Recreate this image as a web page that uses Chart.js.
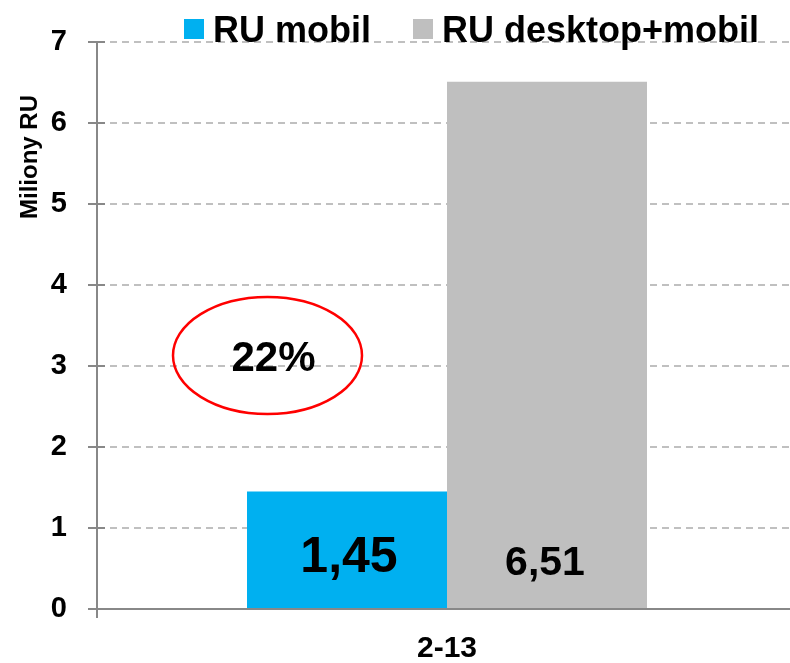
<!DOCTYPE html>
<html lang="cs">
<head>
<meta charset="UTF-8">
<title>RU mobil / RU desktop+mobil</title>
<script src="https://cdn.jsdelivr.net/npm/chart.js"></script>
<style>
  html, body { margin: 0; padding: 0; overflow: hidden; background: #fff; }
  canvas { display: block; }
</style>
</head>
<body>
<canvas id="ruChart" width="800" height="663"></canvas>
<script>
// data
const categories = ['2-13'];
const ruMobil = [1.45];
const ruDesktopMobil = [6.51];
const seriesNames = ['RU mobil', 'RU desktop+mobil'];
const seriesColors = ['#00B0F0', '#BFBFBF'];
const yTicks = [0, 1, 2, 3, 4, 5, 6, 7];
const shareLabel = '22%';
const yTitle = 'Miliony RU';

const FONT = '"Liberation Sans", Arial, sans-serif';

// legend, value labels, the red ellipse and the rotated axis title
const extras = {
    id: 'extras',
    afterDatasetsDraw(chart) {
        const ctx = chart.ctx;
        const y = chart.scales.y;
        const area = chart.chartArea;
        ctx.save();

        // inner half of the cross tick marks on the y axis
        ctx.strokeStyle = '#888888';
        ctx.lineWidth = 2;
        y.ticks.forEach(t => {
            const py = Math.round(y.getPixelForValue(t.value));
            ctx.beginPath();
            ctx.moveTo(area.left, py);
            ctx.lineTo(area.left + 8, py);
            ctx.stroke();
        });

        // values inside the bars
        const labelSizes = [50, 41];
        const labelLift = [51, 45];
        ctx.fillStyle = '#000';
        ctx.textAlign = 'center';
        ctx.textBaseline = 'middle';
        chart.data.datasets.forEach((ds, i) => {
            chart.getDatasetMeta(i).data.forEach((bar, j) => {
                ctx.font = `bold ${labelSizes[i]}px ${FONT}`;
                ctx.fillText(ds.data[j].toFixed(2).replace('.', ','), bar.x + (i ? -2 : 2), y.bottom - labelLift[i]);
            });
        });

        // share ellipse
        const cx = area.left + 170.5;
        const cy = y.getPixelForValue(3.13);
        ctx.strokeStyle = '#FF0000';
        ctx.lineWidth = 2.5;
        ctx.beginPath();
        ctx.ellipse(cx, cy, 94.5, 58.5, 0, 0, Math.PI * 2);
        ctx.stroke();
        ctx.font = `bold 42px ${FONT}`;
        ctx.fillText(shareLabel, cx + 6, cy + 4);

        // legend
        ctx.textAlign = 'left';
        ctx.textBaseline = 'alphabetic';
        ctx.font = `bold 36px ${FONT}`;
        const legendX = [184, 413];
        seriesNames.forEach((name, i) => {
            ctx.fillStyle = seriesColors[i];
            ctx.fillRect(legendX[i], 19, 20, 20);
            ctx.fillStyle = '#000';
            ctx.fillText(name, legendX[i] + 29, 42);
        });

        // y axis title
        ctx.translate(37, 157);
        ctx.rotate(-Math.PI / 2);
        ctx.textAlign = 'center';
        ctx.font = `bold 24px ${FONT}`;
        ctx.fillText(yTitle, 0, 0);

        ctx.restore();
    }
};

new Chart(document.getElementById('ruChart'), {
    type: 'bar',
    data: {
        labels: categories,
        datasets: [
            { label: seriesNames[0], data: ruMobil, backgroundColor: seriesColors[0] },
            { label: seriesNames[1], data: ruDesktopMobil, backgroundColor: seriesColors[1] }
        ]
    },
    options: {
        responsive: false,
        animation: false,
        layout: { padding: { top: 42, right: 3, left: 0, bottom: 0 } },
        categoryPercentage: 400 / 700,
        barPercentage: 1,
        plugins: {
            legend: { display: false },
            tooltip: { enabled: false }
        },
        scales: {
            x: {
                grid: {
                    drawOnChartArea: false,
                    tickLength: 9,
                    color: '#888888',
                    lineWidth: 2,
                    offset: true
                },
                border: { color: '#888888', width: 2 },
                ticks: {
                    color: '#000',
                    padding: 13,
                    font: { family: FONT, size: 30, weight: 'bold' }
                },
                afterFit: s => { s.height = 54; }
            },
            y: {
                min: 0,
                max: 7,
                afterBuildTicks: s => { s.ticks = yTicks.map(v => ({ value: v })); },
                ticks: {
                    color: '#000',
                    padding: 21,
                    font: { family: FONT, size: 29, weight: 'bold' }
                },
                grid: {
                    color: c => (c.tick && c.tick.value === 0) ? 'rgba(0,0,0,0)' : '#C0C0C0',
                    lineWidth: 2,
                    tickColor: '#888888',
                    tickLength: 9,
                    tickWidth: 2
                },
                border: { color: '#888888', width: 2, dash: [7, 5] },
                afterFit: s => { s.width = 97; }
            }
        }
    },
    plugins: [extras]
});
</script>
</body>
</html>
